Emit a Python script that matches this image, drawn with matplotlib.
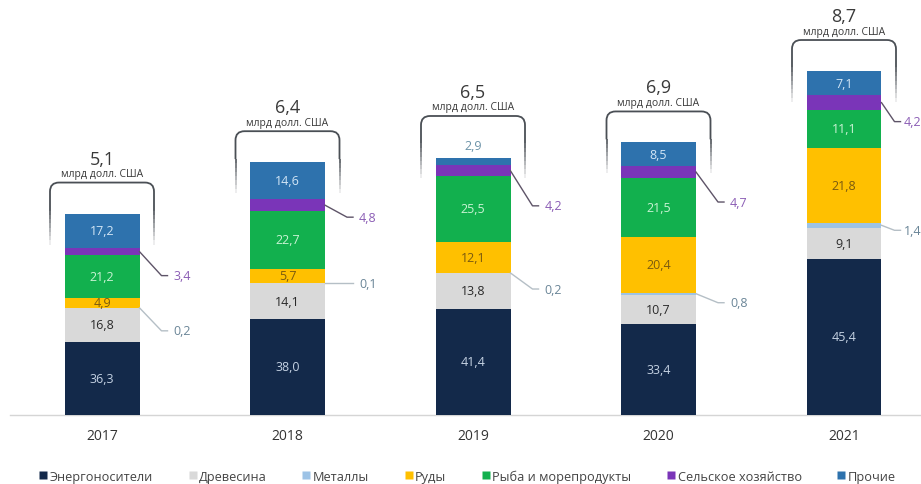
import matplotlib
matplotlib.use("Agg")
import matplotlib.pyplot as plt
from matplotlib.path import Path
from matplotlib.patches import PathPatch
from matplotlib.lines import Line2D

plt.rcParams['font.family'] = ['Open Sans', 'DejaVu Sans']

# ---------------- data ----------------
years = ['2017', '2018', '2019', '2020', '2021']
totals = [5.1, 6.4, 6.5, 6.9, 8.7]          # млрд долл. США
total_labels = ['5,1', '6,4', '6,5', '6,9', '8,7']
categories = ['Энергоносители', 'Древесина', 'Металлы', 'Руды',
              'Рыба и морепродукты', 'Сельское хозяйство', 'Прочие']
energy = [36.3, 38.0, 41.4, 33.4, 45.4]
wood = [16.8, 14.1, 13.8, 10.7, 9.1]
metals = [0.2, 0.1, 0.2, 0.8, 1.4]
ores = [4.9, 5.7, 12.1, 20.4, 21.8]
fish = [21.2, 22.7, 25.5, 21.5, 11.1]
agri = [3.4, 4.8, 4.2, 4.7, 4.2]
other = [17.2, 14.6, 2.9, 8.5, 7.1]

series = [energy, wood, metals, ores, fish, agri, other]
colors = ['#13294a', '#d9d9d9', '#9dc3e6', '#ffc000', '#12b04e', '#7a35b8', '#2e72ad']
text_colors = ['#c5d2e3', '#2a2a2a', None, '#7a5a10', '#c9f3d4', None, '#d3e6f6']

# layout (pixel offsets for leader-line labels)
agri_drop = [24, 12, 35, 30, 19]
metal_drop = [23, 0, 16, 9, 5]
leader_dx = [22, 22, 22, 22, 13]
label_dx = [34, 34, 34, 34, 22]

# ---------------- figure ----------------
W, H = 921, 485
fig = plt.figure(figsize=(W / 100, H / 100), dpi=100)
ax = fig.add_axes([0, 0, 1, 1])
ax.axis('off')

PX_Y = 1 / 39.5      # data units per pixel (y)
PX_X = 1 / 185.5     # data units per pixel (x)
base_px = 416
ax.set_ylim(-(H - base_px) * PX_Y, base_px * PX_Y)
x0_px = 102
ax.set_xlim(-x0_px * PX_X, (W - x0_px) * PX_X)

bw = 75 * PX_X
x = list(range(len(years)))

def fmt(v):
    return f"{v:.1f}".replace('.', ',')

# baseline
ax.plot([(-x0_px + 10) * PX_X, (W - x0_px) * PX_X], [0, 0], color='#d5d5d5', lw=1.0, zorder=1)

for i in x:
    tot = totals[i]
    bottom = 0.0
    seg_bounds = []
    for s, col in zip(series, colors):
        h = s[i] / 100 * tot
        ax.bar(i, h, bottom=bottom, width=bw, color=col, edgecolor='none', zorder=2)
        seg_bounds.append((bottom, h))
        bottom += h
    top = bottom
    # labels inside segments
    for k, (b, h) in enumerate(seg_bounds):
        tc = text_colors[k]
        if tc is None:
            continue
        val = series[k][i]
        if k == 6 and h / PX_Y < 10:
            ax.text(i, top + 12 * PX_Y, fmt(val), ha='center', va='center',
                    fontsize=9, color='#6c93a8', zorder=4)
        else:
            ax.text(i, b + h / 2, fmt(val), ha='center', va='center',
                    fontsize=9, color=tc, zorder=4)
    rx = i + bw / 2
    ldx = leader_dx[i] * PX_X
    tdx = label_dx[i] * PX_X
    # leader label: agriculture
    b, h = seg_bounds[5]
    ys = b + h / 2
    ye = ys - agri_drop[i] * PX_Y
    ax.plot([rx, rx + ldx, rx + ldx + 6 * PX_X], [ys, ye, ye],
            color='#5e5468', lw=1.0, zorder=3)
    ax.text(rx + tdx, ye, fmt(agri[i]), ha='left', va='center',
            fontsize=9, color='#8b5db5', zorder=4)
    # leader label: metals
    b, h = seg_bounds[2]
    ys = b + h / 2
    ye = ys - metal_drop[i] * PX_Y
    ax.plot([rx, rx + ldx, rx + ldx + 6 * PX_X], [ys, ye, ye],
            color='#b5bfc6', lw=1.0, zorder=3)
    ax.text(rx + tdx, ye, fmt(metals[i]), ha='left', va='center',
            fontsize=9, color='#6a8597', zorder=4)

    # bracket
    gap = 31 * PX_Y
    if seg_bounds[6][1] / PX_Y < 10:
        gap = 42 * PX_Y
    btop = top + gap
    side = 62 * PX_Y
    hw = 52 * PX_X
    rX, rY = 9 * PX_X, 9 * PX_Y
    L, R = i - hw, i + hw
    verts = [(L, btop - side * 0.45), (L, btop - rY), (L, btop), (L + rX, btop),
             (R - rX, btop), (R, btop), (R, btop - rY), (R, btop - side * 0.45)]
    codes = [Path.MOVETO, Path.LINETO, Path.CURVE3, Path.CURVE3,
             Path.LINETO, Path.CURVE3, Path.CURVE3, Path.LINETO]
    ax.add_patch(PathPatch(Path(verts, codes), facecolor='none',
                           edgecolor='#4a4f55', lw=1.3, zorder=3))
    # fading lower parts of the sides
    nfade = 8
    for j in range(nfade):
        y1 = btop - side * 0.45 - side * 0.55 * j / nfade
        y2 = btop - side * 0.45 - side * 0.55 * (j + 1) / nfade
        a = 1 - (j + 1) / (nfade + 1)
        for xx in (L, R):
            ax.plot([xx, xx], [y1, y2], color='#4a4f55', lw=1.3, alpha=a,
                    solid_capstyle='butt', zorder=3)
    ax.text(i, btop + 9 * PX_Y, 'млрд долл. США', ha='center', va='center',
            fontsize=7.5, color='#3a3a3a', zorder=4)
    ax.text(i, btop + 15 * PX_Y, total_labels[i], ha='center', va='bottom',
            fontsize=13, color='#3a3a3a', zorder=4)
    # year label
    ax.text(i, -21 * PX_Y, years[i], ha='center', va='center',
            fontsize=10, color='#333333')

handles = [Line2D([0], [0], marker='s', linestyle='none', markersize=6,
                  markerfacecolor=c, markeredgecolor='none') for c in colors]
fig.legend(handles, categories, loc='center', bbox_to_anchor=(467 / W, 1 - 477 / H),
           ncol=7, frameon=False, fontsize=9.2, handletextpad=0.1,
           handlelength=0.8, columnspacing=2.7, labelcolor='#444444')

fig.savefig('out.png', dpi=100, facecolor='white')
